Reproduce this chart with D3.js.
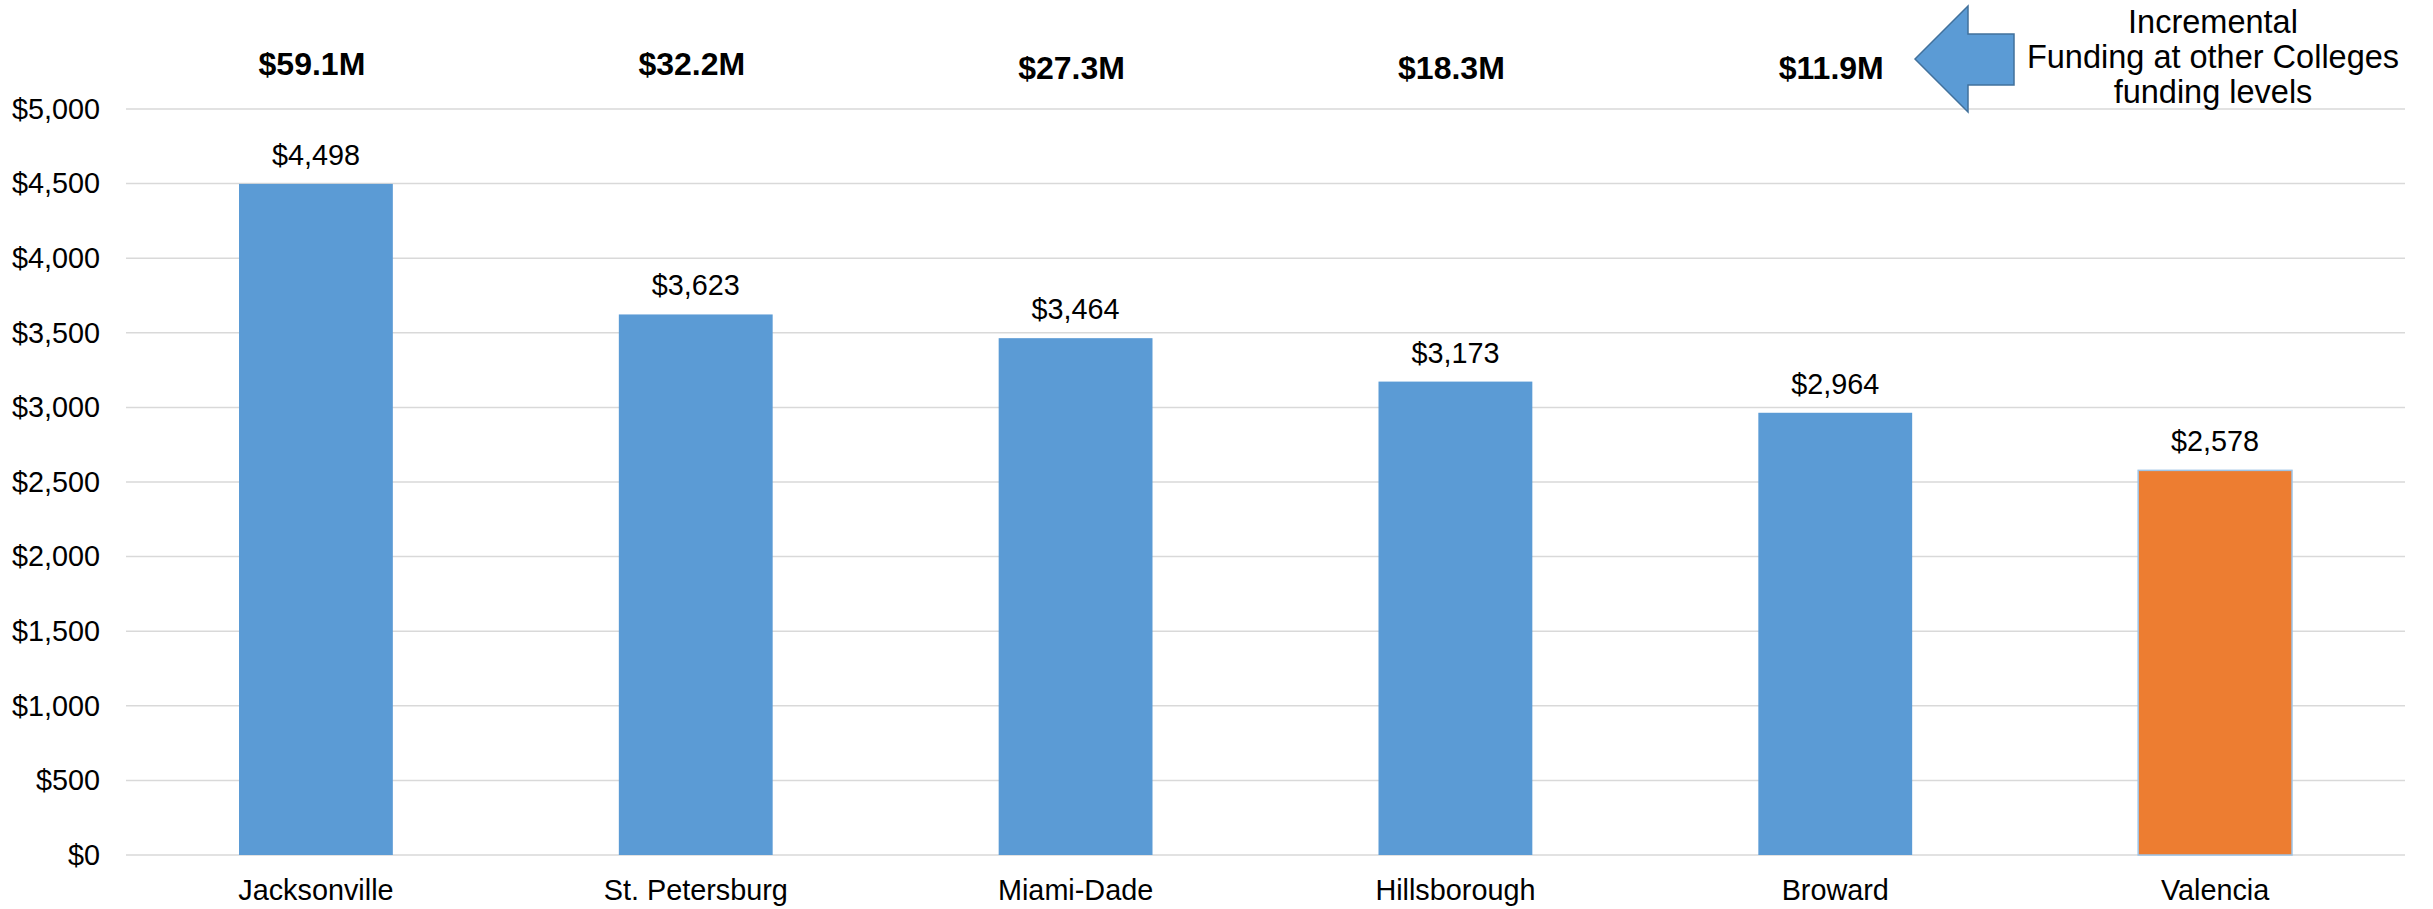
<!DOCTYPE html>
<html>
<head>
<meta charset="utf-8">
<script src="https://cdn.jsdelivr.net/npm/d3@7"></script>
<style>
  body { margin: 0; background: #fff; }
  svg { display: block; font-family: "Liberation Sans", Arial, sans-serif; }
</style>
</head>
<body>
<div id="chart"></div>
<script>
(function() {

    // data
    var colleges = ['Jacksonville', 'St. Petersburg', 'Miami-Dade', 'Hillsborough', 'Broward', 'Valencia']
    var fundingPerFte = [4498, 3623, 3464, 3173, 2964, 2578]
    var incremental = ['$59.1M', '$32.2M', '$27.3M', '$18.3M', '$11.9M']
    var yTicks = [0, 500, 1000, 1500, 2000, 2500, 3000, 3500, 4000, 4500, 5000]
    var noteLines = ['Incremental', 'Funding at other Colleges', 'funding levels']

    var width = 2433, height = 909
    var left = 126, right = 2405, top = 109, bottom = 855

    var blue = '#5B9BD5', orange = '#ED7D31'

    var svg = d3.select('#chart').append('svg')
        .attr('width', width)
        .attr('height', height)

    var x = d3.scaleBand().domain(colleges).range([left, right]).padding(0)
    var y = d3.scaleLinear().domain([0, 5000]).range([bottom, top])
    var barW = x.bandwidth() * 0.405
    var fmt = d3.format(',')

    // gridlines
    svg.append('g').attr('class', 'grid')
        .selectAll('line')
        .data(yTicks)
        .enter().append('line')
        .attr('x1', left)
        .attr('x2', right)
        .attr('y1', d => y(d))
        .attr('y2', d => y(d))
        .attr('stroke', '#D9D9D9')
        .attr('stroke-width', 1.5)

    // y axis labels
    var yAxis = svg.append('g')
        .attr('transform', 'translate(' + left + ',0)')
        .call(d3.axisLeft(y).tickValues(yTicks).tickSize(0).tickPadding(26)
            .tickFormat(d => '$' + fmt(d)))
    yAxis.select('.domain').remove()
    yAxis.selectAll('text')
        .attr('font-size', '28.8px')
        .attr('font-family', '"Liberation Sans", Arial, sans-serif')
        .attr('fill', '#000')

    // x axis labels
    var xAxis = svg.append('g')
        .attr('transform', 'translate(0,' + bottom + ')')
        .call(d3.axisBottom(x).tickSize(0).tickPadding(25))
    xAxis.select('.domain').remove()
    xAxis.selectAll('text')
        .attr('font-size', '28.8px')
        .attr('font-family', '"Liberation Sans", Arial, sans-serif')
        .attr('fill', '#000')

    // bars
    svg.append('g').attr('class', 'bars')
        .selectAll('rect')
        .data(fundingPerFte)
        .enter().append('rect')
        .attr('x', (d, i) => x(colleges[i]) + x.bandwidth() / 2 - barW / 2)
        .attr('y', d => y(d))
        .attr('width', barW)
        .attr('height', d => y(0) - y(d))
        .attr('fill', (d, i) => colleges[i] === 'Valencia' ? orange : blue)
        .attr('stroke', (d, i) => colleges[i] === 'Valencia' ? '#9DC3E6' : 'none')
        .attr('stroke-width', 1.5)

    // value labels
    svg.append('g').attr('class', 'values')
        .selectAll('text')
        .data(fundingPerFte)
        .enter().append('text')
        .attr('x', (d, i) => x(colleges[i]) + x.bandwidth() / 2)
        .attr('y', d => y(d) - 19)
        .attr('text-anchor', 'middle')
        .attr('font-size', '28.8px')
        .text(d => '$' + fmt(d))

    // incremental funding labels
    svg.append('g').attr('class', 'incremental')
        .selectAll('text')
        .data(incremental)
        .enter().append('text')
        .attr('x', (d, i) => x(colleges[i]) + x.bandwidth() / 2 - 4)
        .attr('y', (d, i) => i < 2 ? 75 : 79)
        .attr('text-anchor', 'middle')
        .attr('font-size', '32px')
        .attr('font-weight', 'bold')
        .text(d => d)

    // left arrow
    var arrow = [[1915, 59], [1968, 6], [1968, 34], [2014, 34], [2014, 85], [1968, 85], [1968, 112]]
    svg.append('polygon')
        .attr('points', arrow.map(p => p.join(',')).join(' '))
        .attr('fill', blue)
        .attr('stroke', '#41719C')
        .attr('stroke-width', 1.5)

    // note
    svg.append('g').attr('class', 'note')
        .selectAll('text')
        .data(noteLines)
        .enter().append('text')
        .attr('x', 2213)
        .attr('y', (d, i) => 33 + i * 35)
        .attr('text-anchor', 'middle')
        .attr('font-size', '32.5px')
        .text(d => d)

})()
</script>
</body>
</html>
